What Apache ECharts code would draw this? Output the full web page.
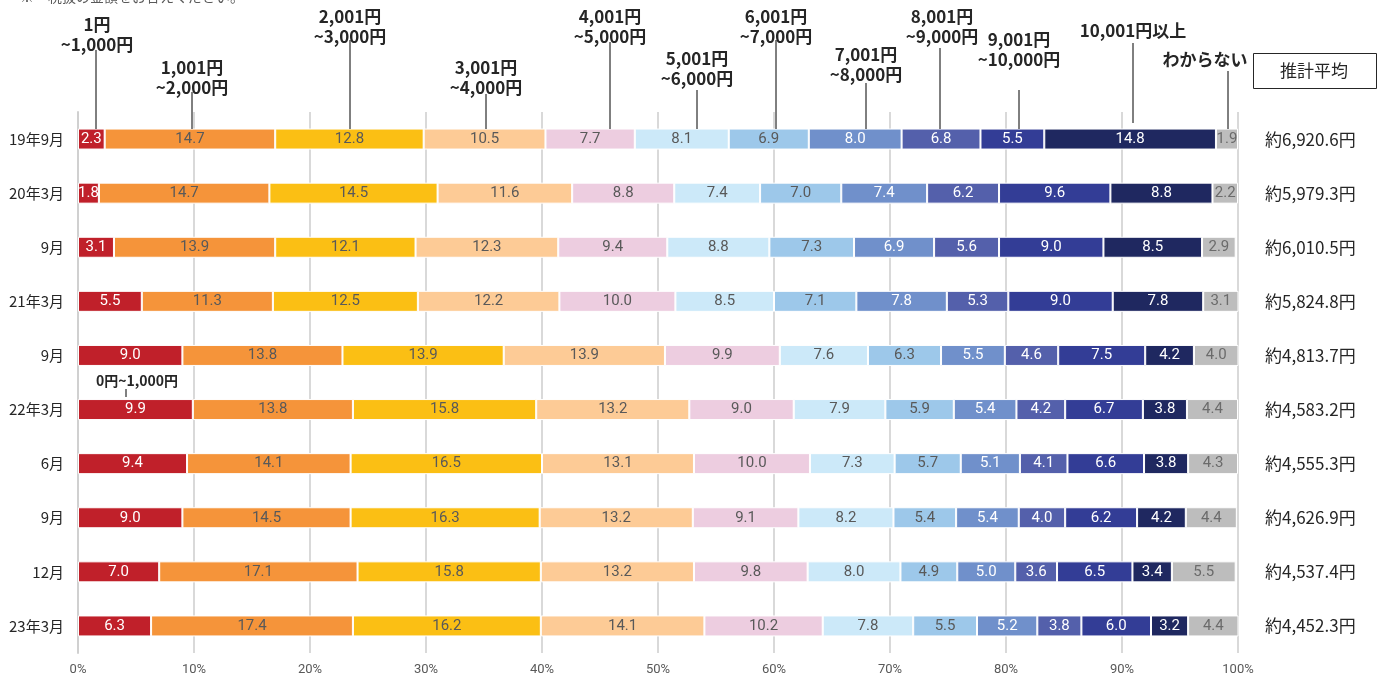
<!DOCTYPE html>
<html>
<head>
<meta charset="utf-8">
<script src="https://cdn.jsdelivr.net/npm/echarts@6/dist/echarts.min.js"></script>
<style>
  html, body { margin: 0; padding: 0; background: #fff; }
  #chart { width: 1384px; height: 677px; }
</style>
</head>
<body>
<div id="chart"></div>
<script>
// 調査時期
var periods = ['19年9月', '20年3月', '9月', '21年3月', '9月', '22年3月', '6月', '9月', '12月', '23年3月']
// 金額区分
var bins = ['1円~1,000円', '1,001円~2,000円', '2,001円~3,000円', '3,001円~4,000円', '4,001円~5,000円',
  '5,001円~6,000円', '6,001円~7,000円', '7,001円~8,000円', '8,001円~9,000円', '9,001円~10,000円',
  '10,001円以上', 'わからない']
// 各時期の構成比（%）
var r1909 = [2.3, 14.7, 12.8, 10.5, 7.7, 8.1, 6.9, 8.0, 6.8, 5.5, 14.8, 1.9]
var r2003 = [1.8, 14.7, 14.5, 11.6, 8.8, 7.4, 7.0, 7.4, 6.2, 9.6, 8.8, 2.2]
var r2009 = [3.1, 13.9, 12.1, 12.3, 9.4, 8.8, 7.3, 6.9, 5.6, 9.0, 8.5, 2.9]
var r2103 = [5.5, 11.3, 12.5, 12.2, 10.0, 8.5, 7.1, 7.8, 5.3, 9.0, 7.8, 3.1]
var r2109 = [9.0, 13.8, 13.9, 13.9, 9.9, 7.6, 6.3, 5.5, 4.6, 7.5, 4.2, 4.0]
var r2203 = [9.9, 13.8, 15.8, 13.2, 9.0, 7.9, 5.9, 5.4, 4.2, 6.7, 3.8, 4.4]
var r2206 = [9.4, 14.1, 16.5, 13.1, 10.0, 7.3, 5.7, 5.1, 4.1, 6.6, 3.8, 4.3]
var r2209 = [9.0, 14.5, 16.3, 13.2, 9.1, 8.2, 5.4, 5.4, 4.0, 6.2, 4.2, 4.4]
var r2212 = [7.0, 17.1, 15.8, 13.2, 9.8, 8.0, 4.9, 5.0, 3.6, 6.5, 3.4, 5.5]
var r2303 = [6.3, 17.4, 16.2, 14.1, 10.2, 7.8, 5.5, 5.2, 3.8, 6.0, 3.2, 4.4]
var rows = [r1909, r2003, r2009, r2103, r2109, r2203, r2206, r2209, r2212, r2303]
// 推計平均
var averages = ['約6,920.6円', '約5,979.3円', '約6,010.5円', '約5,824.8円', '約4,813.7円',
  '約4,583.2円', '約4,555.3円', '約4,626.9円', '約4,537.4円', '約4,452.3円']
var xTicks = [0, 10, 20, 30, 40, 50, 60, 70, 80, 90, 100]

var colors = ['#C0202A', '#F5943A', '#FBBF14', '#FDCB96', '#EDCDE0', '#CCE9F9',
  '#9DC8EA', '#7090CB', '#5460AB', '#333D96', '#1F2860', '#BDBDBD']
var labelColors = ['#fff', '#595959', '#595959', '#595959', '#595959', '#595959',
  '#595959', '#fff', '#fff', '#fff', '#fff', '#6b6b6b']

var numFont = "'Roboto', sans-serif"
var jpFont = "'Noto Sans CJK JP', sans-serif"

var series = bins.map(function (name, i) {
  return {
    name: name,
    type: 'bar',
    stack: 'total',
    barWidth: 21,
    data: rows.map(function (r) { return r[i] }),
    itemStyle: { color: colors[i], borderColor: '#fff', borderWidth: 1 },
    label: {
      show: true,
      position: 'inside',
      color: labelColors[i],
      fontFamily: numFont,
      fontSize: 15,
      formatter: function (p) { return p.value.toFixed(1) }
    }
  }
})

// 上部の区分ラベル（引出し線付き）
var notes = [
  { t: '1円\n~1,000円', x: 97, y: 35, lx: 96, y1: 50, y2: 129 },
  { t: '1,001円\n~2,000円', x: 192, y: 78, lx: 192, y1: 92, y2: 129 },
  { t: '2,001円\n~3,000円', x: 350, y: 27, lx: 350, y1: 40, y2: 129 },
  { t: '3,001円\n~4,000円', x: 486, y: 78, lx: 486, y1: 94, y2: 129 },
  { t: '4,001円\n~5,000円', x: 610, y: 27, lx: 610, y1: 42, y2: 129 },
  { t: '5,001円\n~6,000円', x: 697, y: 69, lx: 697, y1: 90, y2: 129 },
  { t: '6,001円\n~7,000円', x: 776, y: 27, lx: 776, y1: 40, y2: 129 },
  { t: '7,001円\n~8,000円', x: 866, y: 65, lx: 866, y1: 83, y2: 129 },
  { t: '8,001円\n~9,000円', x: 942, y: 27, lx: 940, y1: 48, y2: 129 },
  { t: '9,001円\n~10,000円', x: 1019, y: 50, lx: 1019, y1: 90, y2: 129 },
  { t: '10,001円以上', x: 1133, y: 31, lx: 1133, y1: 43, y2: 123 },
  { t: 'わからない', x: 1205, y: 60, lx: 1228, y1: 71, y2: 129 },
  { t: '0円~1,000円', x: 137, y: 381, lx: 126, y1: 389, y2: 397 }
]
var graphics = []
notes.forEach(function (n) {
  graphics.push({
    type: 'text', x: n.x, y: n.y,
    style: {
      text: n.t, fill: '#262626', font: 'bold ' + (n.y > 300 ? 14 : 17) + 'px ' + jpFont,
      textAlign: 'center', textVerticalAlign: 'middle', lineHeight: 20
    }
  })
  graphics.push({
    type: 'line', shape: { x1: n.lx, y1: n.y1, x2: n.lx, y2: n.y2 },
    style: { stroke: '#000', lineWidth: 1 }, z: 10
  })
})
graphics.push({
  type: 'rect', shape: { x: 1253.5, y: 53.5, width: 123, height: 35 },
  style: { fill: '#fff', stroke: '#262626', lineWidth: 1 }
})
graphics.push({
  type: 'text', x: 1314, y: 71,
  style: { text: '推計平均', fill: '#262626', font: '17px ' + jpFont, textAlign: 'center', textVerticalAlign: 'middle' }
})
graphics.push({
  type: 'text', x: 20, y: -3,
  style: { text: '※　税抜の金額をお答えください。', fill: '#595959', font: '14px ' + jpFont, textVerticalAlign: 'middle' }
})

var myChart = echarts.init(document.getElementById('chart'))
myChart.setOption({
  animation: false,
  grid: { left: 78, right: 146, top: 112, bottom: 24 },
  xAxis: {
    type: 'value',
    min: 0,
    max: 100,
    interval: 10,
    axisLine: { show: false },
    axisTick: { show: false },
    axisLabel: {
      color: '#595959', fontFamily: numFont, fontSize: 13, margin: 10,
      formatter: function (v) { return xTicks.indexOf(v) >= 0 ? v + '%' : '' }
    },
    splitLine: { lineStyle: { color: '#d9d9d9', width: 2 } }
  },
  yAxis: [
    {
      type: 'category',
      inverse: true,
      data: periods,
      axisLine: { lineStyle: { color: '#d0d0d0', width: 2 } },
      axisTick: { show: false },
      axisLabel: { color: '#262626', fontFamily: jpFont, fontSize: 15, margin: 14 }
    },
    {
      type: 'category',
      inverse: true,
      position: 'right',
      data: averages,
      axisLine: { show: false },
      axisTick: { show: false },
      axisLabel: { color: '#262626', fontFamily: jpFont, fontSize: 17, margin: 27 }
    }
  ],
  series: series,
  graphic: graphics
}, true)
</script>
</body>
</html>
